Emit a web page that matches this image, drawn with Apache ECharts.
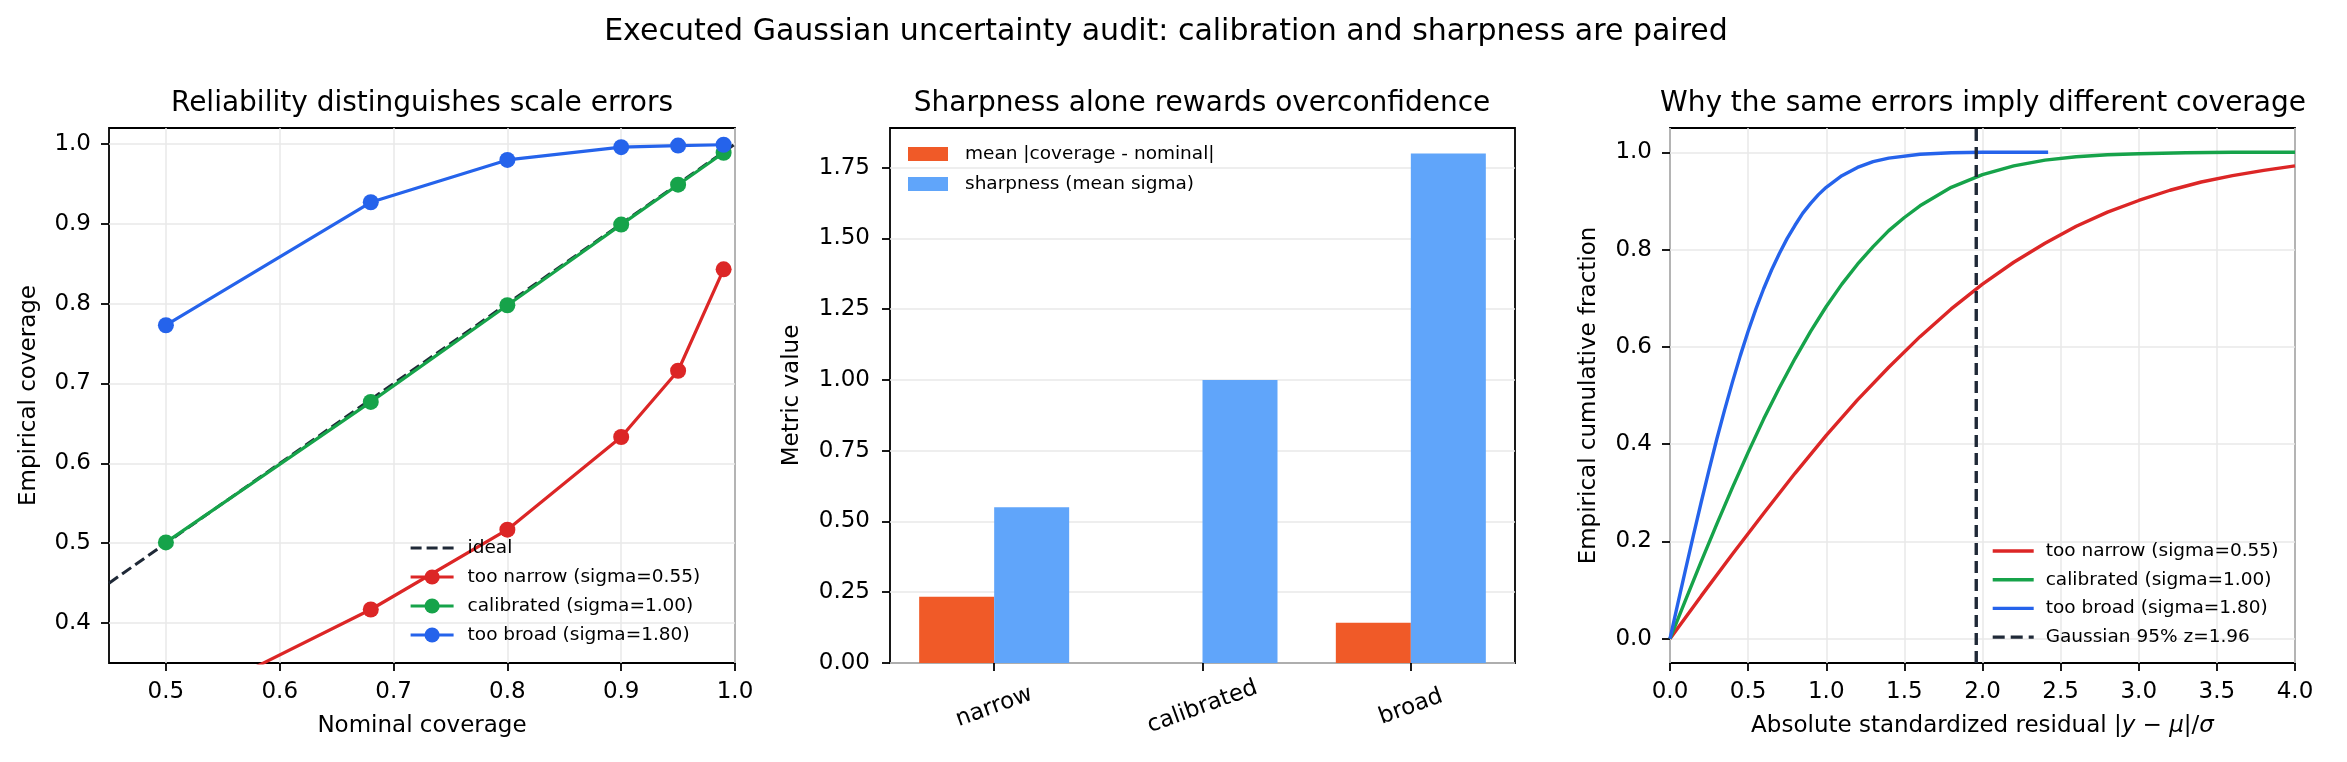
<!DOCTYPE html>
<html><head><meta charset="utf-8">
<script src="https://cdn.jsdelivr.net/npm/echarts@6/dist/echarts.min.js"></script>
<style>html,body{margin:0;padding:0;background:#fff;}#c{width:2347px;height:762px;}</style>
</head><body><div id="c"></div>
<script>
// ---------- Panel 1: reliability ----------
const nominalCoverage = [0.5, 0.68, 0.8, 0.9, 0.95, 0.99];
const coverageNarrow = [0.289, 0.417, 0.517, 0.633, 0.716, 0.843];
const coverageCalibrated = [0.501, 0.677, 0.798, 0.899, 0.949, 0.989];
const coverageBroad = [0.773, 0.927, 0.980, 0.996, 0.998, 0.999];
const idealEnds = [0.45, 1.0];
const xTicks1 = [0.5, 0.6, 0.7, 0.8, 0.9, 1.0];
const yTicks1 = [0.4, 0.5, 0.6, 0.7, 0.8, 0.9, 1.0];

// ---------- Panel 2: bars ----------
const barCategories = ['narrow', 'calibrated', 'broad'];
const meanAbsCoverageError = [0.234, 0.0, 0.142];
const sharpnessMeanSigma = [0.55, 1.00, 1.80];
const yTicks2 = [0, 0.25, 0.5, 0.75, 1.0, 1.25, 1.5, 1.75];

// ---------- Panel 3: empirical CDFs of |z| ----------
const residRed = [0, 0.2, 0.4, 0.6, 0.8, 1.0, 1.2, 1.4, 1.6, 1.8, 2.0, 2.2, 2.4, 2.6, 2.8, 3.0, 3.2, 3.4, 3.6, 3.8, 4.0];
const cdfRed   = [0, 0.088, 0.174, 0.258, 0.340, 0.418, 0.491, 0.558, 0.621, 0.678, 0.729, 0.774, 0.813, 0.848, 0.877, 0.901, 0.922, 0.939, 0.952, 0.963, 0.972];
const residGreen = [0, 0.1, 0.2, 0.3, 0.4, 0.5, 0.6, 0.7, 0.8, 0.9, 1.0, 1.1, 1.2, 1.3, 1.4, 1.5, 1.6, 1.8, 2.0, 2.2, 2.4, 2.6, 2.8, 3.0, 3.3, 3.6, 4.0];
const cdfGreen   = [0, 0.080, 0.159, 0.236, 0.311, 0.383, 0.452, 0.516, 0.576, 0.632, 0.683, 0.729, 0.770, 0.806, 0.839, 0.866, 0.890, 0.928, 0.954, 0.972, 0.984, 0.991, 0.995, 0.997, 0.999, 1.0, 1.0];
const residBlue = [0, 0.05, 0.1, 0.15, 0.2, 0.25, 0.3, 0.35, 0.4, 0.45, 0.5, 0.55, 0.6, 0.65, 0.7, 0.75, 0.8, 0.85, 0.9, 0.95, 1.0, 1.1, 1.2, 1.3, 1.4, 1.6, 1.8, 2.0, 2.2, 2.42];
const cdfBlue   = [0, 0.072, 0.143, 0.213, 0.281, 0.347, 0.411, 0.471, 0.528, 0.582, 0.632, 0.678, 0.720, 0.758, 0.792, 0.823, 0.850, 0.875, 0.895, 0.913, 0.928, 0.952, 0.969, 0.981, 0.988, 0.996, 0.999, 1.0, 1.0, 1.0];
const zCritical = 1.96;
const xTicks3 = [0, 0.5, 1.0, 1.5, 2.0, 2.5, 3.0, 3.5, 4.0];
const yTicks3 = [0, 0.2, 0.4, 0.6, 0.8, 1.0];
const yRange3 = [-0.05, 1.05];

const FONT = 'DejaVu Sans';
const C = {red:'#dc2626', green:'#16a34a', blue:'#2563eb', ideal:'#1f2937', orange:'#f05a28', sky:'#60a5fa', grid:'#e8e8e8'};
const names = {narrow:'too narrow (sigma=0.55)', cal:'calibrated (sigma=1.00)', broad:'too broad (sigma=1.80)'};

const pairs = (xs, ys) => xs.map((x, i) => [x, ys[i]]);
const lineOnly = name => ({name, itemStyle: {color: 'transparent', opacity: 0, borderWidth: 0}});

function vAxis(gi, min, max, ticks, dec, o) {
  return Object.assign({
    type: 'value', gridIndex: gi, min, max,
    axisLine: {show: false, onZero: false},
    axisTick: {show: true, length: 8, customValues: ticks, lineStyle: {color: '#000', width: 1.8}},
    axisLabel: {customValues: ticks, formatter: v => Number(v).toFixed(dec), color: '#000', fontFamily: FONT, fontSize: 23, margin: 18},
    splitLine: {show: true, lineStyle: {color: C.grid, width: 1.5}},
    nameLocation: 'middle',
    nameTextStyle: {color: '#000', fontFamily: FONT, fontSize: 23}
  }, o || {});
}

const grids = [
  {left: 109, top: 128, width: 626, height: 535},
  {left: 890, top: 128, width: 625, height: 535},
  {left: 1670, top: 128, width: 625, height: 535}
].map(g => Object.assign(g, {show: true, borderColor: '#000', borderWidth: 1.8, backgroundColor: 'transparent', containLabel: false}));

const titleStyle = {color: '#000', fontFamily: FONT, fontSize: 28, fontWeight: 'normal'};

const option = {
  animation: false,
  backgroundColor: '#fff',
  title: [
    {text: 'Executed Gaussian uncertainty audit: calibration and sharpness are paired', left: 1166, top: 17, textAlign: 'center', padding: 0,
     textStyle: {color: '#000', fontFamily: FONT, fontSize: 30, fontWeight: 'normal'}},
    {text: 'Reliability distinguishes scale errors', left: 422, top: 90, textAlign: 'center', padding: 0, textStyle: titleStyle},
    {text: 'Sharpness alone rewards overconfidence', left: 1202, top: 90, textAlign: 'center', padding: 0, textStyle: titleStyle},
    {text: 'Why the same errors imply different coverage', left: 1983, top: 90, textAlign: 'center', padding: 0, textStyle: titleStyle}
  ],
  grid: grids,
  legend: [
    {data: [lineOnly('ideal'), names.narrow, names.cal, names.broad], orient: 'vertical', left: 409, top: 538, padding: 0,
     itemWidth: 43, itemHeight: 19, itemGap: 9, selectedMode: false, lineStyle: {width: 3.2},
     textStyle: {color: '#000', fontFamily: FONT, fontSize: 18.5, lineHeight: 20, padding: [0, 0, 0, 9]}},
    {data: ['mean |coverage - nominal|', 'sharpness (mean sigma)'], orient: 'vertical', left: 908, top: 144, padding: 0,
     icon: 'rect', itemWidth: 40, itemHeight: 14, itemGap: 10, selectedMode: false,
     textStyle: {color: '#000', fontFamily: FONT, fontSize: 18.5, lineHeight: 20, padding: [0, 0, 0, 12]}},
    {data: [lineOnly(names.narrow + ' '), lineOnly(names.cal + ' '), lineOnly(names.broad + ' '), lineOnly('Gaussian 95% z=1.96')], orient: 'vertical', left: 1991, top: 541, padding: 0,
     itemWidth: 41, itemHeight: 16, itemGap: 8.7, selectedMode: false, lineStyle: {width: 3.4},
     textStyle: {color: '#000', fontFamily: FONT, fontSize: 18.5, lineHeight: 20, padding: [0, 0, 0, 7]}}
  ],
  xAxis: [
    vAxis(0, 0.45, 1.0, xTicks1, 1, {name: 'Nominal coverage', nameGap: 52}),
    {type: 'category', gridIndex: 1, data: barCategories,
     axisLine: {show: false, onZero: false},
     axisTick: {show: true, alignWithLabel: true, length: 8, lineStyle: {color: '#000', width: 1.8}},
     axisLabel: {rotate: 20, align: 'center', verticalAlign: 'middle', margin: 44, color: '#000', fontFamily: FONT, fontSize: 23},
     splitLine: {show: false}},
    vAxis(2, 0, 4, xTicks3, 1, {name: 'Absolute standardized residual |{i|y} \u2212 {i|\u03bc}|/{i|\u03c3}', nameGap: 52,
      nameTextStyle: {color: '#000', fontFamily: FONT, fontSize: 23, rich: {i: {fontStyle: 'italic', fontFamily: FONT, fontSize: 23, color: '#000'}}}})
  ],
  yAxis: [
    vAxis(0, 0.35, 1.02, yTicks1, 1, {name: 'Empirical coverage', nameGap: 68}),
    vAxis(1, 0, 1.89, yTicks2, 2, {name: 'Metric value', nameGap: 86, axisLabel: {customValues: yTicks2, formatter: v => Number(v).toFixed(2), color: '#000', fontFamily: FONT, fontSize: 23, margin: 20}}),
    vAxis(2, yRange3[0], yRange3[1], yTicks3, 1, {name: 'Empirical cumulative fraction', nameGap: 69})
  ],
  series: [
    {name: 'ideal', type: 'line', xAxisIndex: 0, yAxisIndex: 0, data: pairs(idealEnds, idealEnds), symbol: 'none',
     lineStyle: {color: C.ideal, width: 3, type: [11, 5]}, itemStyle: {color: C.ideal}},
    {name: names.narrow, type: 'line', xAxisIndex: 0, yAxisIndex: 0, data: pairs(nominalCoverage, coverageNarrow), symbol: 'circle', symbolSize: 16,
     lineStyle: {color: C.red, width: 3.2}, itemStyle: {color: C.red}},
    {name: names.cal, type: 'line', xAxisIndex: 0, yAxisIndex: 0, data: pairs(nominalCoverage, coverageCalibrated), symbol: 'circle', symbolSize: 16,
     lineStyle: {color: C.green, width: 3.2}, itemStyle: {color: C.green}},
    {name: names.broad, type: 'line', xAxisIndex: 0, yAxisIndex: 0, data: pairs(nominalCoverage, coverageBroad), symbol: 'circle', symbolSize: 16,
     lineStyle: {color: C.blue, width: 3.2}, itemStyle: {color: C.blue}},

    {name: 'mean |coverage - nominal|', type: 'bar', xAxisIndex: 1, yAxisIndex: 1, data: meanAbsCoverageError, barWidth: '36%', barGap: '0%',
     itemStyle: {color: C.orange}},
    {name: 'sharpness (mean sigma)', type: 'bar', xAxisIndex: 1, yAxisIndex: 1, data: sharpnessMeanSigma, barWidth: '36%', barGap: '0%',
     itemStyle: {color: C.sky}},

    {name: names.narrow + ' ', type: 'line', xAxisIndex: 2, yAxisIndex: 2, data: pairs(residRed, cdfRed), symbol: 'none',
     lineStyle: {color: C.red, width: 3.4}, itemStyle: {color: C.red}},
    {name: names.cal + ' ', type: 'line', xAxisIndex: 2, yAxisIndex: 2, data: pairs(residGreen, cdfGreen), symbol: 'none',
     lineStyle: {color: C.green, width: 3.4}, itemStyle: {color: C.green}},
    {name: names.broad + ' ', type: 'line', xAxisIndex: 2, yAxisIndex: 2, data: pairs(residBlue, cdfBlue), symbol: 'none',
     lineStyle: {color: C.blue, width: 3.4}, itemStyle: {color: C.blue}},
    {name: 'Gaussian 95% z=1.96', type: 'line', xAxisIndex: 2, yAxisIndex: 2, data: pairs([zCritical, zCritical], yRange3), symbol: 'none',
     lineStyle: {color: C.ideal, width: 3.4, type: [12, 6]}, itemStyle: {color: C.ideal}}
  ]
};

const chart = echarts.init(document.getElementById('c'), null, {renderer: 'canvas', width: 2347, height: 762});
chart.setOption(option);
</script></body></html>
